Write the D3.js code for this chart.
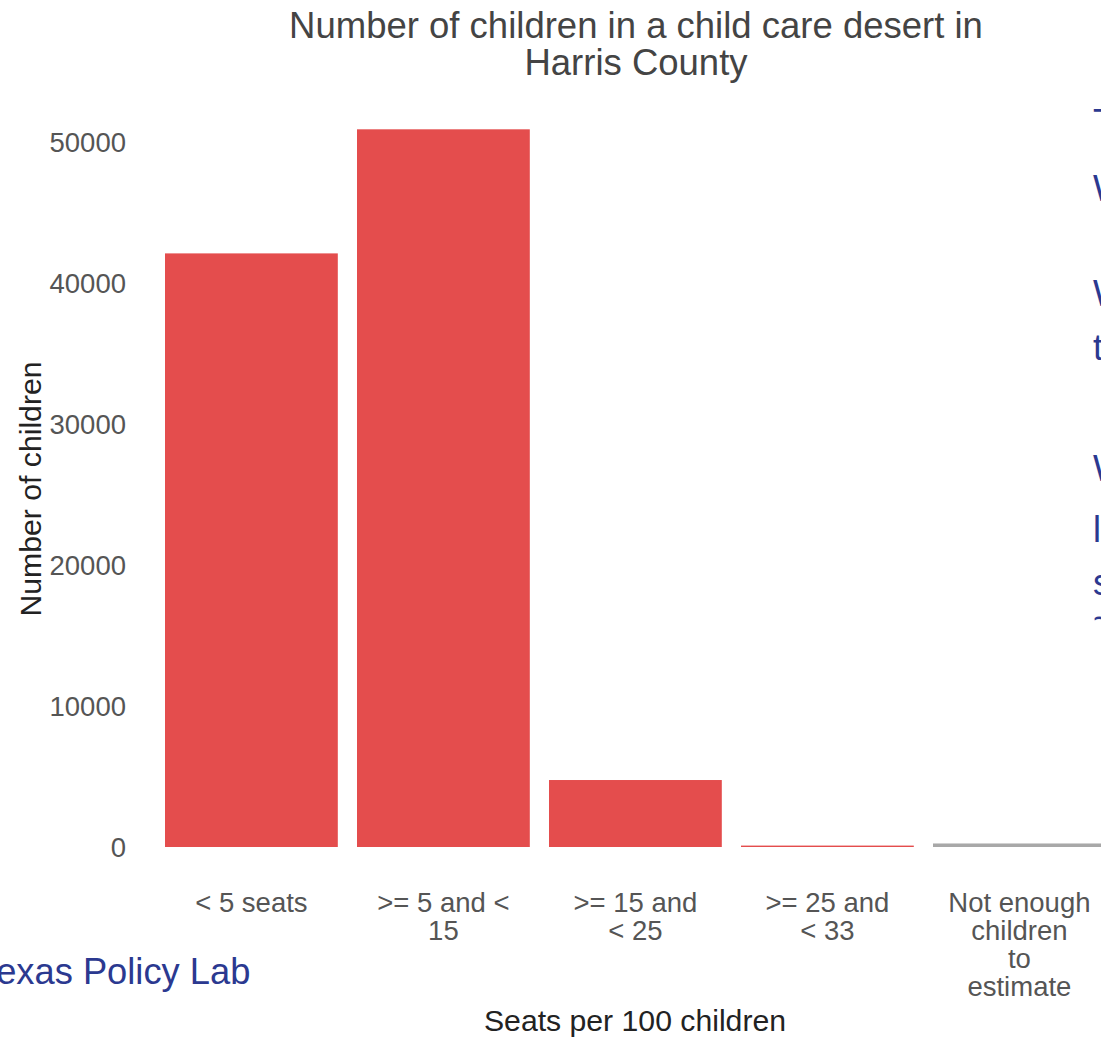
<!DOCTYPE html>
<html>
<head>
<meta charset="utf-8">
<script src="https://cdn.jsdelivr.net/npm/d3@7"></script>
<style>
  html, body { margin: 0; padding: 0; background: #fff; overflow: hidden; }
  svg { display: block; font-family: "Liberation Sans", Arial, sans-serif; }
</style>
</head>
<body>
<svg id="chart" width="1101" height="1038"></svg>
<script>
// Seat availability bands (each label split into lines)
const categories = ["< 5 seats", ">= 5 and < 15", ">= 15 and < 25", ">= 25 and < 33", "Not enough children to estimate"];
const categoryLines = [["< 5 seats"], [">= 5 and <", "15"], [">= 15 and", "< 25"], [">= 25 and", "< 33"], ["Not enough", "children", "to", "estimate"]];
// Number of children in each band
const children = [42100, 50900, 4750, 100, 250];
const barColors = ["#e44d4d", "#e44d4d", "#e44d4d", "#e44d4d", "#a8a8a8"];
const yTicks = [0, 10000, 20000, 30000, 40000, 50000];

const titleLines = ["Number of children in a child care desert in", "Harris County"];
const sideText = ["T", "W", "W", "t", "W", "l", "s", "~"];

const FONT = "Liberation Sans, Arial, sans-serif";
const svg = d3.select("#chart");

const x = d3.scaleBand()
  .domain(categories)
  .range([155.4, 1115.4])
  .paddingInner(0.1)
  .paddingOuter(0.05);

const y = d3.scaleLinear()
  .domain([0, 50000])
  .range([847, 142]);

// Title
svg.append("g").selectAll("text")
  .data(titleLines)
  .join("text")
  .attr("x", 636)
  .attr("y", (d, i) => 38 + i * 37)
  .attr("text-anchor", "middle")
  .attr("font-size", 36.5)
  .attr("fill", "#444")
  .text(d => d);

// Bars
svg.append("g").selectAll("rect")
  .data(children)
  .join("rect")
  .attr("x", (d, i) => x(categories[i]))
  .attr("width", x.bandwidth())
  .attr("y", d => y(d))
  .attr("height", d => y(0) - y(d))
  .attr("fill", (d, i) => barColors[i]);

// Y axis (labels only)
const yAxis = d3.axisLeft(y)
  .tickValues(yTicks)
  .tickFormat(d3.format("d"))
  .tickSize(0)
  .tickPadding(0);
const gy = svg.append("g").attr("transform", "translate(126,0)").call(yAxis);
gy.attr("font-family", FONT);
gy.select(".domain").remove();
gy.selectAll("text")
  .attr("font-size", 27.5)
  .attr("fill", "#555")
  .attr("dy", "0.35em");

// X axis (multi-line labels)
const xAxis = d3.axisBottom(x).tickSize(0).tickFormat("");
const gx = svg.append("g").attr("transform", "translate(0,850)").call(xAxis);
gx.attr("font-family", FONT);
gx.select(".domain").remove();
gx.selectAll(".tick").each(function (d, i) {
  const t = d3.select(this).append("text")
    .attr("text-anchor", "middle")
    .attr("font-size", 27.5)
    .attr("fill", "#555");
  categoryLines[i].forEach((line, j) => {
    t.append("tspan").attr("x", 0).attr("y", 62 + j * 28).text(line);
  });
});

// Axis titles
svg.append("text")
  .attr("x", 635)
  .attr("y", 1031)
  .attr("text-anchor", "middle")
  .attr("font-size", 30.2)
  .attr("fill", "#222")
  .text("Seats per 100 children");

svg.append("text")
  .attr("transform", "translate(41,489) rotate(-90)")
  .attr("text-anchor", "middle")
  .attr("font-size", 30.2)
  .attr("fill", "#222")
  .text("Number of children");

// Source credit
svg.append("text")
  .attr("x", -22)
  .attr("y", 984)
  .attr("font-size", 36.3)
  .attr("fill", "#2b3990")
  .text("Texas Policy Lab");

// Accompanying notes beside the chart
const sideY = [135, 201, 306, 360, 481, 542, 595, 631];
svg.append("g").selectAll("text")
  .data(sideText)
  .join("text")
  .attr("x", 1093)
  .attr("y", (d, i) => sideY[i])
  .attr("font-size", 36)
  .attr("fill", "#2b3990")
  .text(d => d);
</script>
</body>
</html>
